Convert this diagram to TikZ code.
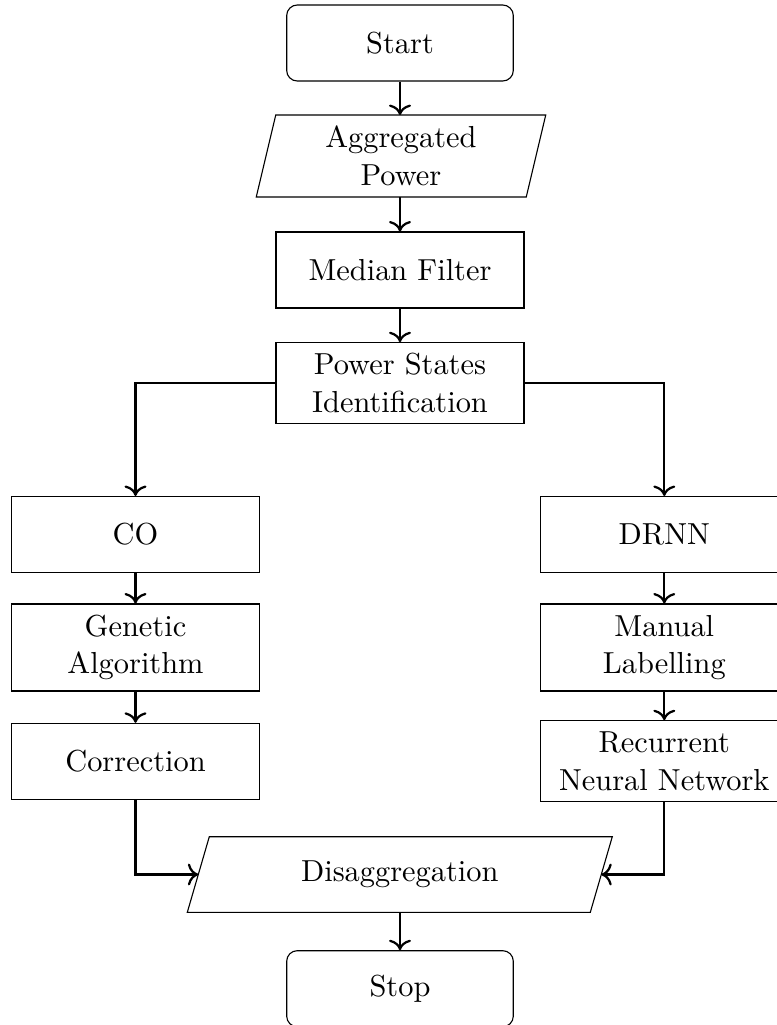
\documentclass[tikz,border=0pt]{standalone}
\usetikzlibrary{calc,arrows.meta}
\begin{document}
\begin{tikzpicture}[x=0.36023pt,y=0.36023pt,
  every node/.style={font=\fontsize{10.95}{13.6}\selectfont},
  box/.style={draw=black, line width=0.4pt, rectangle, align=center,
    minimum width=89.2pt, minimum height=27.38pt, inner sep=2pt},
  term/.style={box, rounded corners=3.8pt, minimum width=81.63pt},
  io/.style={rectangle, draw=none, align=center, outer sep=0pt, inner sep=2pt},
  boxline/.style={draw=black, line width=0.4pt},
  arr/.style={-{To[scale=1.12]}, thick}
]
\useasboundingbox (0,0) rectangle (777,-1025);

\node[term] (start) at (400,-43) {Start};
\node[io, minimum width=97.26pt, minimum height=29.54pt] (agg) at (401,-156) {Aggregated\\Power};
\draw[boxline] ($(agg.north west)+(3.51pt,0)$) -- ($(agg.north east)+(3.51pt,0)$)
  -- ($(agg.south east)-(3.51pt,0)$) -- ($(agg.south west)-(3.51pt,0)$) -- cycle;
\node[box, minimum width=89.34pt] (med) at (400,-270) {Median Filter};
\node[box, minimum width=89.34pt, minimum height=29.18pt] (psi) at (400,-383.2) {Power States\\Identification};

\node[box] (co) at (135.5,-534.5) {CO};
\node[box, minimum height=31.34pt] (ga) at (135.5,-647.5) {Genetic\\Algorithm};
\node[box] (corr) at (135.5,-761.3) {Correction};

\node[box] (drnn) at (664.3,-534.5) {DRNN};
\node[box, minimum height=31.34pt] (ml) at (664.3,-647.5) {Manual\\Labelling};
\node[box, minimum height=29.18pt] (rnn) at (664.3,-761.2) {Recurrent\\Neural Network};

\node[io, minimum width=145.17pt, minimum height=27.23pt] (dis) at (399.8,-874.5) {Disaggregation};
\draw[boxline] ($(dis.north west)+(3.96pt,0)$) -- ($(dis.north east)+(3.96pt,0)$)
  -- ($(dis.south east)-(3.96pt,0)$) -- ($(dis.south west)-(3.96pt,0)$) -- cycle;

\node[term] (stop) at (400,-988.7) {Stop};

\draw[arr] (start) -- (start.south |- agg.north);
\draw[arr] (agg.south -| med.north) -- (med);
\draw[arr] (med) -- (psi);
\draw[arr] (psi.west) -| (co.north);
\draw[arr] (psi.east) -| (drnn.north);
\draw[arr] (co) -- (ga);
\draw[arr] (ga) -- (corr);
\draw[arr] (drnn) -- (ml);
\draw[arr] (ml) -- (rnn);
\draw[arr] (corr.south) |- (dis.west);
\draw[arr] (rnn.south) |- (dis.east);
\draw[arr] (dis.south -| stop.north) -- (stop);
\end{tikzpicture}
\end{document}
